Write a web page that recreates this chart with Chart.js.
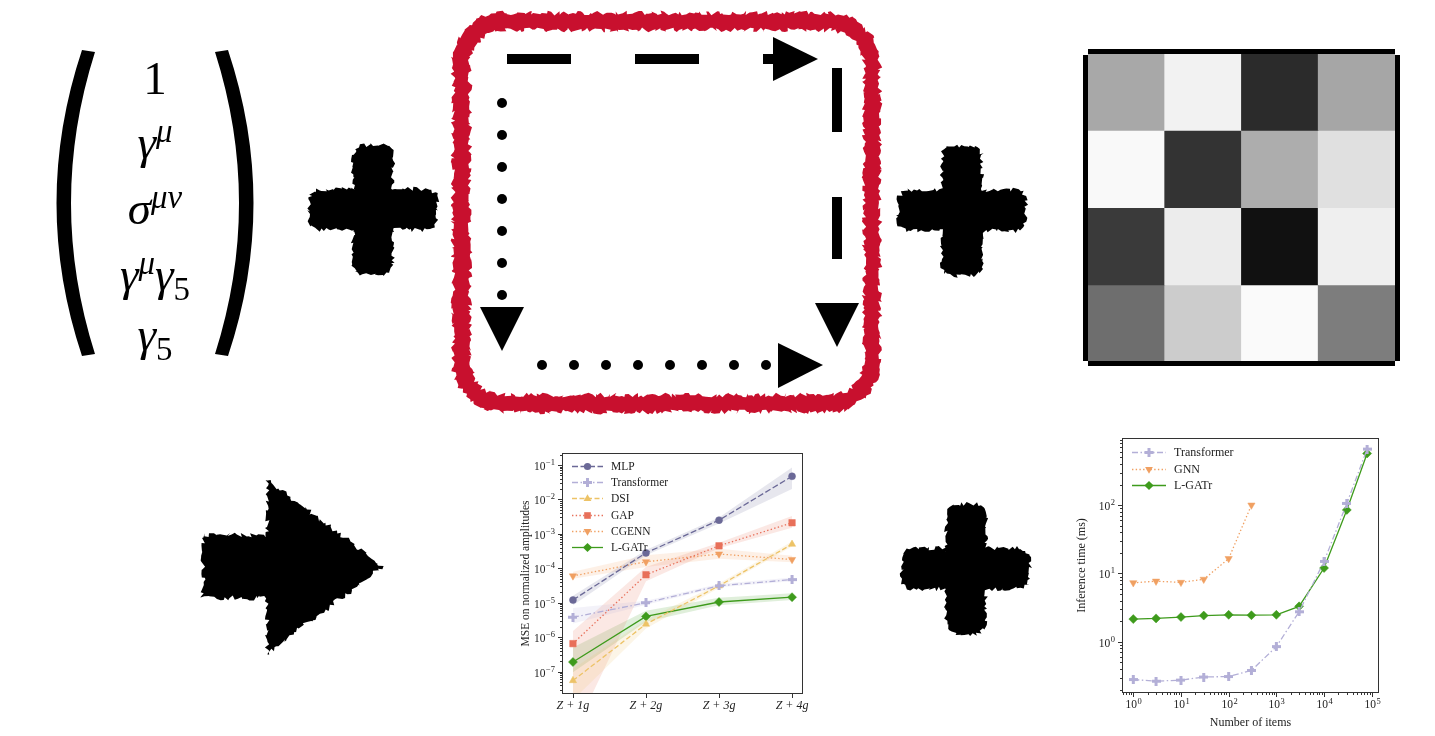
<!DOCTYPE html>
<html>
<head>
<meta charset="utf-8">
<script src="https://cdn.jsdelivr.net/npm/chart.js@4.4.0/dist/chart.umd.min.js"></script>
<style>
html, body { margin: 0; padding: 0; background: #fff; }
#page { position: relative; width: 1435px; height: 736px; overflow: hidden; }
canvas { position: absolute; }
.mx { position: absolute; left: 155px; transform: translateX(-50%); font-family: 'Liberation Serif', serif;
      font-size: 47px; line-height: 47px; white-space: nowrap; color: #000; }
.mx i { font-style: italic; }
.mx sup { font-size: 0.7em; vertical-align: 0.5em; line-height: 0; }
.mx sub { font-size: 0.7em; vertical-align: -0.3em; line-height: 0; }
</style>
</head>
<body>
<div id="page">
  <canvas id="bg" width="1435" height="736" style="left:0;top:0"></canvas>
  <div class="mx" style="top:55px">1</div>
  <div class="mx" style="top:119px"><i>γ</i><sup><i>μ</i></sup></div>
  <div class="mx" style="top:185px"><i>σ</i><sup><i>μν</i></sup></div>
  <div class="mx" style="top:251px"><i>γ</i><sup><i>μ</i></sup><i>γ</i><sub>5</sub></div>
  <div class="mx" style="top:311px"><i>γ</i><sub>5</sub></div>
  <canvas id="heat" width="317" height="319" style="left:1083px;top:48px"></canvas>
  <canvas id="mse" width="300" height="275" style="left:515px;top:445px"></canvas>
  <canvas id="time" width="320" height="305" style="left:1070px;top:430px"></canvas>
</div>
<script>
// ---- data: MSE vs multiplicity ----
const gens = ['Z + 1g', 'Z + 2g', 'Z + 3g', 'Z + 4g'];
const mlp = [1.2e-5, 2.8e-4, 2.5e-3, 4.7e-2];
const mlpLo = [8.5e-6, 2.4e-4, 2.0e-3, 2.0e-2];
const mlpHi = [1.6e-5, 3.4e-4, 3.0e-3, 8.5e-2];
const transformer = [3.8e-6, 1.0e-5, 3.1e-5, 4.7e-5];
const transformerLo = [2.5e-6, 8.8e-6, 2.8e-5, 4.2e-5];
const transformerHi = [7.0e-6, 1.15e-5, 3.5e-5, 5.4e-5];
const dsi = [5.5e-8, 2.4e-6, 3.1e-5, 5.0e-4];
const dsiLo = [1.5e-8, 1.8e-6, 2.7e-5, 4.3e-4];
const dsiHi = [1.2e-7, 3.2e-6, 3.6e-5, 6.0e-4];
const gap = [6.5e-7, 6.5e-5, 4.5e-4, 2.1e-3];
const gapLo = [1.5e-9, 4.2e-5, 3.8e-4, 1.5e-3];
const gapHi = [1.5e-6, 1.1e-4, 5.5e-4, 3.3e-3];
const cgenn = [6.0e-5, 1.55e-4, 2.6e-4, 1.8e-4];
const cgennLo = [5.0e-5, 1.1e-4, 1.9e-4, 1.5e-4];
const cgennHi = [8.0e-5, 2.4e-4, 3.7e-4, 2.3e-4];
const lgatr = [1.9e-7, 4.0e-6, 1.05e-5, 1.45e-5];
const lgatrLo = [9.5e-8, 2.8e-6, 8.4e-6, 1.2e-5];
const lgatrHi = [5.0e-7, 5.9e-6, 1.4e-5, 1.9e-5];

// ---- data: inference time vs number of items ----
const items = [1, 3, 10, 30, 100, 300, 1000, 3000, 10000, 30000, 80000];
const tfTime = [0.28, 0.265, 0.275, 0.305, 0.31, 0.38, 0.85, 2.75, 15, 106, 660];
const gnnItems = [1, 3, 10, 30, 100, 300];
const gnnTime = [7.3, 7.7, 7.4, 8.2, 16.5, 100];
const lgatrTime = [2.15, 2.2, 2.3, 2.42, 2.48, 2.45, 2.48, 3.3, 12, 85, 570];

// ---- data: grey matrix (0 = black, 255 = white), rows top to bottom ----
const heatCols = ['a', 'b', 'c', 'd'];
const heatRows = [
  [168, 242, 43, 166],
  [249, 51, 173, 224],
  [58, 236, 17, 239],
  [110, 204, 250, 125]
];

Chart.defaults.font.family = "'Liberation Serif', serif";
Chart.defaults.color = '#222';

const isPow10 = v => Math.abs(Math.log10(v) - Math.round(Math.log10(v))) < 1e-6;

// ---- markers ----
function plusImg(color) {
  const c = document.createElement('canvas');
  c.width = 9; c.height = 9;
  const g = c.getContext('2d');
  g.fillStyle = color;
  g.fillRect(3, 0, 3, 9);
  g.fillRect(0, 3, 9, 3);
  return c;
}
function marker(mk, color) {
  if (mk === 'plus') return {pointStyle: plusImg(color), pointRadius: 4.5};
  if (mk === 'circle') return {pointStyle: 'circle', pointRadius: 3.5};
  if (mk === 'square') return {pointStyle: 'rect', pointRadius: 4.6};
  if (mk === 'tri') return {pointStyle: 'triangle', pointRadius: 4.2};
  if (mk === 'triDown') return {pointStyle: 'triangle', pointRadius: 4.2, pointRotation: 180};
  return {pointStyle: 'rectRot', pointRadius: 4.5};
}
function drawMark(ctx, mk, x, y, color) {
  ctx.fillStyle = color;
  ctx.beginPath();
  if (mk === 'plus') { ctx.fillRect(x - 1.5, y - 4.5, 3, 9); ctx.fillRect(x - 4.5, y - 1.5, 9, 3); return; }
  if (mk === 'circle') ctx.arc(x, y, 3.6, 0, Math.PI * 2);
  else if (mk === 'square') ctx.rect(x - 3.3, y - 3.3, 6.6, 6.6);
  else if (mk === 'tri') { ctx.moveTo(x, y - 4.3); ctx.lineTo(x + 3.9, y + 2.4); ctx.lineTo(x - 3.9, y + 2.4); }
  else if (mk === 'triDown') { ctx.moveTo(x, y + 4.3); ctx.lineTo(x + 3.9, y - 2.4); ctx.lineTo(x - 3.9, y - 2.4); }
  else { ctx.moveTo(x, y - 4.6); ctx.lineTo(x + 4.6, y); ctx.lineTo(x, y + 4.6); ctx.lineTo(x - 4.6, y); }
  ctx.closePath();
  ctx.fill();
}

function lineSet(label, xs, ys, color, dash, mk) {
  return Object.assign({
    label, mk, data: ys.map((v, i) => ({x: xs[i], y: v})),
    borderColor: color, backgroundColor: color, pointBackgroundColor: color, pointBorderColor: color,
    borderWidth: 1.3, borderDash: dash, pointBorderWidth: 0.5, fill: false, tension: 0
  }, marker(mk, color));
}
function bandSets(xs, lo, hi, rgb, target) {
  return [
    {band: true, data: hi.map((v, i) => ({x: xs[i], y: v})), borderWidth: 0, pointRadius: 0,
     backgroundColor: 'rgba(' + rgb + ',0.16)', fill: target + 1},
    {band: true, data: lo.map((v, i) => ({x: xs[i], y: v})), borderWidth: 0, pointRadius: 0, fill: false}
  ];
}

// "10" with a raised exponent, drawn at the scale's own pixel positions
function powLabel(ctx, v, x, y, align) {
  const e = String(Math.round(Math.log10(v))).replace('-', '−');
  ctx.font = "11.5px 'Liberation Serif'";
  const wb = ctx.measureText('10').width;
  ctx.font = "8.5px 'Liberation Serif'";
  const we = ctx.measureText(e).width;
  const x0 = align === 'right' ? x - wb - we - 0.5 : x - (wb + we + 0.5) / 2;
  ctx.textAlign = 'left';
  ctx.textBaseline = 'alphabetic';
  ctx.font = "11.5px 'Liberation Serif'";
  ctx.fillText('10', x0, y + 4);
  ctx.font = "8.5px 'Liberation Serif'";
  ctx.fillText(e, x0 + wb + 0.5, y - 0.5);
}

// axes frame + matplotlib-like ticks and log labels
const frame = {
  id: 'frame',
  afterDraw(chart) {
    const {ctx, chartArea: a, scales} = chart;
    ctx.save();
    ctx.strokeStyle = '#333';
    ctx.fillStyle = '#222';
    ctx.lineWidth = 1;
    ctx.strokeRect(Math.round(a.left) + 0.5, Math.round(a.top) + 0.5, Math.round(a.right - a.left) - 1, Math.round(a.bottom - a.top) - 1);
    Object.values(scales).forEach(s => {
      const marks = [];
      if (s.type === 'logarithmic') {
        for (let e = Math.floor(Math.log10(s.min)); e <= Math.ceil(Math.log10(s.max)); e++) {
          for (let k = 1; k < 10; k++) {
            const v = k * Math.pow(10, e);
            if (v >= s.min && v <= s.max) marks.push([v, k === 1 ? 4 : 2]);
          }
        }
      } else {
        s.ticks.forEach(t => marks.push([t.value, 4]));
      }
      marks.forEach(([v, len]) => {
        const p = Math.round(s.getPixelForValue(v)) + 0.5;
        ctx.beginPath();
        if (s.axis === 'x') { ctx.moveTo(p, a.bottom); ctx.lineTo(p, a.bottom + len); }
        else { ctx.moveTo(a.left, p); ctx.lineTo(a.left - len, p); }
        ctx.stroke();
        if (s.type === 'logarithmic' && isPow10(v)) {
          if (s.axis === 'x') powLabel(ctx, v, p, a.bottom + 11, 'center');
          else powLabel(ctx, v, a.left - 7, p, 'right');
        }
      });
    });
    ctx.restore();
  }
};
function inLegend(dy, gap, len, tx, size) {
  return {
    id: 'inLegend',
    afterDraw(chart) {
      const {ctx, chartArea: a} = chart;
      ctx.save();
      chart.data.datasets.filter(d => !d.band).forEach((d, i) => {
        const y = Math.round(a.top + dy + i * gap) + 0.5;
        const x = a.left + 10;
        ctx.strokeStyle = d.borderColor;
        ctx.lineWidth = d.borderWidth;
        ctx.setLineDash(d.borderDash);
        ctx.beginPath(); ctx.moveTo(x, y); ctx.lineTo(x + len, y); ctx.stroke();
        ctx.setLineDash([]);
        drawMark(ctx, d.mk, x + len / 2, y, d.borderColor);
        ctx.fillStyle = '#222';
        ctx.font = size + "px 'Liberation Serif'";
        ctx.textBaseline = 'middle';
        ctx.fillText(d.label, x + tx, y);
      });
      ctx.restore();
    }
  };
}

// ---- chart: MSE on normalized amplitudes ----
const gx = gens.map((g, i) => i + 1);
const C = {mlp: '#6b6997', tf: '#b3afd7', dsi: '#edc367', gap: '#e8705a', cg: '#f0a062', lg: '#3e9b1c'};
const mseSets = [
  lineSet('MLP', gx, mlp, C.mlp, [6, 2.5], 'circle'),
  lineSet('Transformer', gx, transformer, C.tf, [6, 2.5, 1.5, 2.5], 'plus'),
  lineSet('DSI', gx, dsi, C.dsi, [5, 2.5], 'tri'),
  lineSet('GAP', gx, gap, C.gap, [1.4, 2.3], 'square'),
  lineSet('CGENN', gx, cgenn, C.cg, [1.4, 2.3], 'triDown'),
  lineSet('L-GATr', gx, lgatr, C.lg, [], 'diamond')
];
const mseBands = [
  [mlpLo, mlpHi, '107,105,151'], [transformerLo, transformerHi, '179,175,215'],
  [dsiLo, dsiHi, '237,195,103'], [gapLo, gapHi, '232,112,90'],
  [cgennLo, cgennHi, '240,160,98'], [lgatrLo, lgatrHi, '62,155,28']
];
mseBands.forEach(([lo, hi, rgb]) => mseSets.push(...bandSets(gx, lo, hi, rgb, mseSets.length)));

new Chart(document.getElementById('mse'), {
  type: 'line',
  data: {datasets: mseSets},
  options: {
    responsive: false, animation: false, devicePixelRatio: 1,
    layout: {padding: {top: 8, right: 12, left: 0, bottom: 0}},
    plugins: {legend: {display: false}, tooltip: {enabled: false}},
    scales: {
      x: {
        type: 'linear', min: 0.85, max: 4.15,
        afterBuildTicks: s => { s.ticks = gx.map(v => ({value: v})); },
        afterFit: s => { s.height = 26; },
        grid: {display: false, drawTicks: true, tickLength: 3},
        border: {display: false},
        ticks: {padding: 2, autoSkip: false, maxRotation: 0, font: {size: 12, style: 'italic'}, color: '#222',
                callback: v => gens[v - 1]}
      },
      y: {
        type: 'logarithmic', min: 2.24e-8, max: 0.223,
        afterFit: s => { s.width = 47; },
        grid: {display: false},
        border: {display: false},
        ticks: {display: false},
        title: {display: true, text: 'MSE on normalized amplitudes', font: {size: 11.5}, color: '#222', padding: {top: 4, bottom: 0}}
      }
    }
  },
  plugins: [frame, inLegend(13, 16.2, 31, 39, 11.5)]
});

// ---- chart: inference time ----
const timeSets = [
  lineSet('Transformer', items, tfTime, C.tf, [6, 2.5, 1.5, 2.5], 'plus'),
  lineSet('GNN', gnnItems, gnnTime, C.cg, [1.4, 2.3], 'triDown'),
  lineSet('L-GATr', items, lgatrTime, C.lg, [], 'diamond')
];
new Chart(document.getElementById('time'), {
  type: 'line',
  data: {datasets: timeSets},
  options: {
    responsive: false, animation: false, devicePixelRatio: 1,
    layout: {padding: {top: 8, right: 11, left: 0, bottom: 0}},
    plugins: {legend: {display: false}, tooltip: {enabled: false}},
    scales: {
      x: {
        type: 'logarithmic', min: 0.58, max: 1.42e5,
        afterFit: s => { s.height = 42; },
        grid: {display: false},
        border: {display: false},
        ticks: {display: false},
        title: {display: true, text: 'Number of items', font: {size: 12}, color: '#222', padding: {top: 4, bottom: 5}}
      },
      y: {
        type: 'logarithmic', min: 0.178, max: 960,
        afterFit: s => { s.width = 52; },
        grid: {display: false},
        border: {display: false},
        ticks: {display: false},
        title: {display: true, text: 'Inference time (ms)', font: {size: 12}, color: '#222', padding: {top: 5, bottom: 0}}
      }
    }
  },
  plugins: [frame, inLegend(14, 16.5, 34, 42, 12)]
});

// ---- grey matrix ----
const spines = {
  id: 'spines',
  afterDraw(chart) {
    const {ctx, chartArea: a} = chart;
    ctx.save();
    ctx.fillStyle = '#000';
    ctx.fillRect(a.left, a.top - 4, a.right - a.left, 5);
    ctx.fillRect(a.left, a.bottom - 1, a.right - a.left, 5);
    ctx.fillRect(a.left - 5, a.top + 2, 5, a.bottom - a.top - 3);
    ctx.fillRect(a.right, a.top + 2, 5, a.bottom - a.top - 3);
    ctx.restore();
  }
};
new Chart(document.getElementById('heat'), {
  type: 'bar',
  data: {
    labels: heatCols,
    datasets: heatRows.map(row => ({
      data: row.map(() => 1),
      backgroundColor: row.map(g => 'rgb(' + g + ',' + g + ',' + g + ')'),
      borderWidth: 0, barPercentage: 1, categoryPercentage: 1, inflateAmount: 0.4
    }))
  },
  options: {
    responsive: false, animation: false, devicePixelRatio: 1,
    layout: {padding: {left: 5, right: 5, top: 5, bottom: 5}},
    plugins: {legend: {display: false}, tooltip: {enabled: false}},
    scales: {
      x: {stacked: true, display: false},
      y: {stacked: true, reverse: true, min: 0, max: 4, display: false}
    }
  },
  plugins: [spines]
});

// ---- hand-drawn decorations ----
const bg = document.getElementById('bg').getContext('2d');
const hash = x => { const v = Math.sin(x) * 43758.5453; return v - Math.floor(v); };

function rrPoints(x, y, w, h, r, step) {
  const pts = [];
  const seg = (x0, y0, x1, y1) => {
    const n = Math.max(1, Math.round(Math.hypot(x1 - x0, y1 - y0) / step));
    for (let i = 0; i < n; i++) pts.push([x0 + (x1 - x0) * i / n, y0 + (y1 - y0) * i / n]);
  };
  const arc = (cx, cy, a0, a1) => {
    const n = Math.max(1, Math.round(r * Math.abs(a1 - a0) / step));
    for (let i = 0; i < n; i++) { const t = a0 + (a1 - a0) * i / n; pts.push([cx + r * Math.cos(t), cy + r * Math.sin(t)]); }
  };
  seg(x + r, y, x + w - r, y); arc(x + w - r, y + r, -Math.PI / 2, 0);
  seg(x + w, y + r, x + w, y + h - r); arc(x + w - r, y + h - r, 0, Math.PI / 2);
  seg(x + w - r, y + h, x + r, y + h); arc(x + r, y + h - r, Math.PI / 2, Math.PI);
  seg(x, y + h - r, x, y + r); arc(x + r, y + r, Math.PI, 1.5 * Math.PI);
  return pts;
}
function polyPoints(corners, step) {
  const pts = [];
  corners.forEach((p, k) => {
    const q = corners[(k + 1) % corners.length];
    const n = Math.max(1, Math.round(Math.hypot(q[0] - p[0], q[1] - p[1]) / step));
    for (let i = 0; i < n; i++) pts.push([p[0] + (q[0] - p[0]) * i / n, p[1] + (q[1] - p[1]) * i / n]);
  });
  return pts;
}
function roughFill(ctx, paths, amp, seed, rule) {
  ctx.beginPath();
  paths.forEach((pts, k) => {
    pts.forEach((p, i) => {
      const dx = (hash(i * 1.73 + seed + k * 31.1) - 0.5) * 2 * amp;
      const dy = (hash(i * 2.31 + seed * 3.7 + k * 17.3) - 0.5) * 2 * amp;
      if (i) ctx.lineTo(p[0] + dx, p[1] + dy); else ctx.moveTo(p[0] + dx, p[1] + dy);
    });
    ctx.closePath();
  });
  ctx.fill(rule || 'nonzero');
}
function roughPlus(cx, cy, seed) {
  bg.fillStyle = '#000';
  roughFill(bg, [rrPoints(cx - 20, cy - 65, 40, 130, 11, 2.5), rrPoints(cx - 64, cy - 21, 128, 41, 11, 2.5)], 2.2, seed);
}

// parentheses (crescents, thick in the middle)
bg.fillStyle = '#000';
bg.beginPath();
bg.moveTo(82, 50); bg.quadraticCurveTo(31, 203, 82, 356);
bg.lineTo(95, 354); bg.quadraticCurveTo(47, 203, 95, 52); bg.closePath(); bg.fill();
bg.beginPath();
bg.moveTo(228, 50); bg.quadraticCurveTo(279, 203, 228, 356);
bg.lineTo(215, 354); bg.quadraticCurveTo(263, 203, 215, 52); bg.closePath(); bg.fill();

// plus signs
roughPlus(373, 210, 1);
roughPlus(962, 211, 7);
roughPlus(966, 569, 13);

// big arrow
bg.fillStyle = '#000';
roughFill(bg, [polyPoints([[203, 535], [267, 535], [267, 480], [383, 567], [267, 654], [267, 598], [203, 598]], 2.5)], 2.5, 21);

// red frame
bg.fillStyle = '#c8102e';
roughFill(bg, [rrPoints(453, 13, 427, 399, 50, 2.5), rrPoints(470, 30, 394, 365, 34, 2.5)], 2.4, 5, 'evenodd');

// dashed / dotted arrows inside the frame
bg.fillStyle = '#000';
bg.fillRect(507, 54, 64, 10);
bg.fillRect(635, 54, 64, 10);
bg.fillRect(763, 54, 12, 10);
bg.beginPath(); bg.moveTo(773, 37); bg.lineTo(818, 59); bg.lineTo(773, 81); bg.closePath(); bg.fill();
bg.fillRect(832, 68, 10, 64);
bg.fillRect(832, 197, 10, 62);
bg.beginPath(); bg.moveTo(815, 303); bg.lineTo(859, 303); bg.lineTo(837, 347); bg.closePath(); bg.fill();
for (let k = 0; k < 7; k++) { bg.beginPath(); bg.arc(502, 103 + 32 * k, 5, 0, Math.PI * 2); bg.fill(); }
bg.beginPath(); bg.moveTo(480, 307); bg.lineTo(524, 307); bg.lineTo(502, 351); bg.closePath(); bg.fill();
for (let k = 0; k < 8; k++) { bg.beginPath(); bg.arc(542 + 32 * k, 365, 5, 0, Math.PI * 2); bg.fill(); }
bg.beginPath(); bg.moveTo(778, 343); bg.lineTo(823, 365); bg.lineTo(778, 388); bg.closePath(); bg.fill();
</script>
</body>
</html>
